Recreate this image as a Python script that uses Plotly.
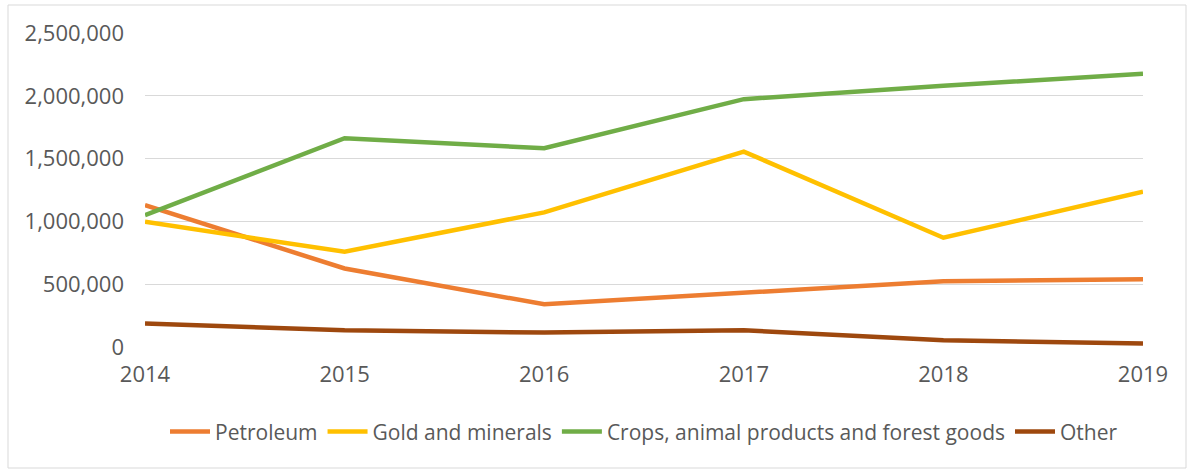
import plotly.graph_objects as go

years = [2014, 2015, 2016, 2017, 2018, 2019]
petroleum = [1130000, 625000, 340000, 431000, 524000, 540000]
gold = [997000, 758000, 1072000, 1556000, 870000, 1236000]
crops = [1050000, 1662000, 1582000, 1973000, 2080000, 2175000]
other = [187000, 133000, 115000, 133000, 53000, 27000]

series = [
    ("Petroleum", petroleum, "#ED7D31"),
    ("Gold and minerals", gold, "#FFC000"),
    ("Crops, animal products and forest goods", crops, "#70AD47"),
    ("Other", other, "#9E480E"),
]

fig = go.Figure()
for name, vals, color in series:
    fig.add_trace(go.Scatter(x=years, y=vals, name=name, mode="lines",
                             line=dict(color=color, width=4.5)))

font = dict(family="Open Sans, sans-serif", size=22, color="#595959")
fig.update_layout(
    width=1194, height=470,
    margin=dict(l=145, r=51, t=33, b=123),
    paper_bgcolor="white", plot_bgcolor="white",
    font=font,
    xaxis=dict(range=[2014, 2019], tickvals=years, showgrid=False, zeroline=False,
               showline=False, ticks="", ticklabelstandoff=12, tickfont=font),
    yaxis=dict(range=[0, 2500000], dtick=500000, tickformat=",d", showgrid=True,
               gridcolor="#D9D9D9", gridwidth=1, zeroline=False, showline=False,
               ticks="", ticklabelstandoff=20, tickfont=font),
    legend=dict(orientation="h", x=0.5, xanchor="center", y=-0.27, yanchor="middle",
                font=dict(family="Open Sans, sans-serif", size=21, color="#595959"),
                itemwidth=40, tracegroupgap=0),
    showlegend=True,
)
fig.add_shape(type="rect", xref="paper", yref="paper",
              x0=(8 - 145) / 998, x1=(1186 - 145) / 998,
              y0=(347 - 468) / 314, y1=(347 - 5) / 314,
              line=dict(color="#D9D9D9", width=1), fillcolor="rgba(0,0,0,0)", layer="below")
fig.write_html("out.html")
